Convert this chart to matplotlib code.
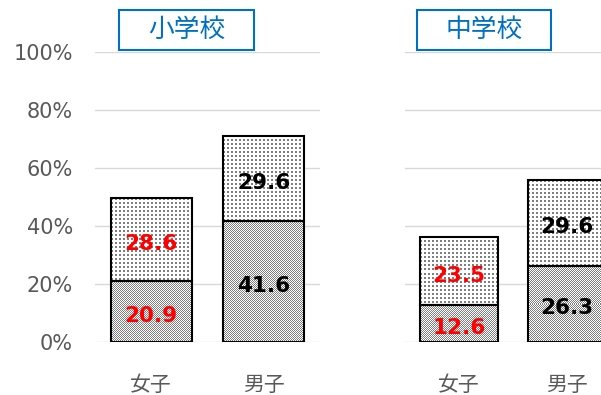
import numpy as np
import matplotlib
matplotlib.use('Agg')
import matplotlib.pyplot as plt
from matplotlib.patches import Rectangle

plt.rcParams['font.family'] = ['Noto Sans CJK JP', 'DejaVu Sans']

# データ
panels = ['小学校', '中学校']
sexes = ['女子', '男子']
lower_vals = {'小学校': [20.9, 41.6], '中学校': [12.6, 26.3]}
upper_vals = {'小学校': [28.6, 29.6], '中学校': [23.5, 29.6]}
label_colors = ['#FF0000', '#000000']
yticks = [0, 20, 40, 60, 80, 100]

W, H = 601, 395
fig = plt.figure(figsize=(W / 100, H / 100), dpi=100)

# axes位置 (ピクセル)
ax_boxes = [(95, 225), (405, 216)]
title_boxes = [(119, 10, 135, 40), (417, 10, 134, 40)]


def pattern_sparse(h, w):
    img = np.ones((h, w, 3))
    ii, jj = np.mgrid[0:h, 0:w]
    mask = (ii % 4 < 2) & (jj % 4 < 2)
    img[mask] = 0.5
    return img


def pattern_checker(h, w):
    img = np.ones((h, w, 3))
    ii, jj = np.mgrid[0:h, 0:w]
    mask = (ii + jj) % 2 == 0
    img[mask] = 0.5
    return img


def fill_pattern(ax, bar, func):
    x0, y0 = bar.get_x(), bar.get_y()
    x1, y1 = x0 + bar.get_width(), y0 + bar.get_height()
    p0 = ax.transData.transform((x0, y0))
    p1 = ax.transData.transform((x1, y1))
    w = max(int(round(abs(p1[0] - p0[0]))), 1)
    h = max(int(round(abs(p1[1] - p0[1]))), 1)
    im = ax.imshow(func(h, w), extent=(x0, x1, y0, y1), aspect='auto',
                   interpolation='nearest', zorder=2.5)
    im.set_clip_path(bar)


for k, panel in enumerate(panels):
    left, width = ax_boxes[k]
    ax = fig.add_axes([left / W, (H - 342) / H, width / W, 290 / H])
    ax.set_xlim(-0.5, 1.5)
    ax.set_ylim(0, 100)
    x = np.arange(len(sexes))
    low = lower_vals[panel]
    up = upper_vals[panel]

    bars_low = ax.bar(x, low, width=0.72, color='white', edgecolor='none', zorder=2)
    bars_up = ax.bar(x, up, bottom=low, width=0.72, color='white', edgecolor='none', zorder=2)
    for b in bars_low:
        fill_pattern(ax, b, pattern_checker)
    for b in bars_up:
        fill_pattern(ax, b, pattern_sparse)
    # 枠線
    ax.bar(x, low, width=0.72, fill=False, edgecolor='black', linewidth=1.5, zorder=3)
    ax.bar(x, up, bottom=low, width=0.72, fill=False, edgecolor='black', linewidth=1.5, zorder=3)
    ax.set_xlim(-0.5, 1.5)
    ax.set_ylim(0, 100)

    # データラベル
    for i in range(len(sexes)):
        for yc, v in [(low[i] / 2, low[i]), (low[i] + up[i] / 2, up[i])]:
            ax.annotate(f'{v:.1f}', (x[i], yc), xytext=(0, -3), textcoords='offset points',
                        ha='center', va='center', fontsize=15.5, fontweight='bold',
                        color=label_colors[i], zorder=4, family=['DejaVu Sans'])

    ax.set_yticks(yticks)
    ax.yaxis.grid(True, color='#d9d9d9', linewidth=1)
    ax.set_axisbelow(True)
    for s in ax.spines.values():
        s.set_visible(False)
    ax.tick_params(length=0)
    ax.set_xticks(x)
    ax.set_xticklabels(sexes, fontsize=15, color='#595959')
    ax.tick_params(axis='x', pad=23)
    if k == 0:
        ax.set_yticklabels([f'{v}%' for v in yticks], fontsize=15, color='#595959',
                           family=['DejaVu Sans'])
        ax.tick_params(axis='y', pad=16)
    else:
        ax.set_yticklabels([])

    # タイトルボックス
    bx, by, bw, bh = title_boxes[k]
    fig.patches.append(Rectangle((bx / W, 1 - (by + bh) / H), bw / W, bh / H,
                                 transform=fig.transFigure, facecolor='white',
                                 edgecolor='#0070C0', linewidth=1.5, zorder=5))
    fig.text((bx + bw / 2) / W, 1 - (by + bh / 2) / H, panel, ha='center', va='center',
             fontsize=18.5, color='#0070C0', zorder=6)

fig.savefig('out.png', dpi=100)
